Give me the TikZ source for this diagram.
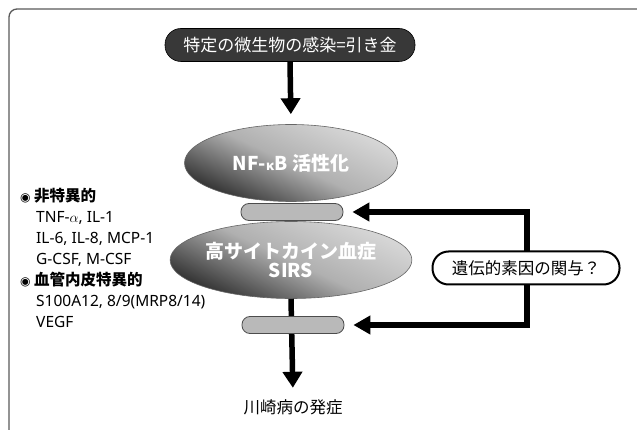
\documentclass[tikz,border=0pt]{standalone}
\usepackage{fontspec}
\setmainfont{Noto Sans CJK JP}
\newfontfamily\lat{Noto Sans}
\newfontfamily\sym{DejaVu Sans}
\usetikzlibrary{arrows.meta,shapes.geometric}
\tikzset{
  arr/.style={line width=5.5pt, -{Triangle[length=16pt,width=19pt]}},
  harr/.style={line width=6pt},
  oval/.style={ellipse, draw=black!60, line width=0.6pt, minimum width=213pt, minimum height=77pt,
     inner sep=0pt, top color=gray!30, bottom color=black!82, middle color=gray!62, shading angle=-25,
     text=white, align=center, font=\fontsize{19}{21}\selectfont\bfseries},
  bar/.style={rounded corners=8pt, draw=black!70, line width=0.8pt, fill=gray!55,
     minimum width=102pt, minimum height=17pt, inner sep=0pt},
  startpill/.style={rounded corners=16pt, fill=black!78, draw=black, line width=0.6pt, text=white,
     minimum width=250pt, minimum height=33pt, inner sep=0pt, font=\fontsize{17}{20}\selectfont},
  qbox/.style={rounded corners=16pt, fill=white, draw=black, line width=2pt,
     minimum width=187pt, minimum height=33pt, inner sep=0pt, font=\fontsize{16.5}{20}\selectfont},
  frame/.style={draw=black!65, line width=1.3pt, rounded corners=8pt},
}
\begin{document}
\begin{tikzpicture}[x=1pt,y=-1pt]
\useasboundingbox (0,0) rectangle (637,430);
\draw[frame] (637,9) -- (9,9) -- (9,430);

\node[startpill] (top) at (290,45) {特定の微生物の感染=引き金};
\node[oval] (e1) at (291,163) {NF-{\fontsize{13}{14}\selectfont κ}B 活性化};
\node[oval] (e2) at (291,260) {高サイトカイン血症\\[-2pt]SIRS};
\node[font=\fontsize{16.5}{20}\selectfont] (fin) at (293,407) {川崎病の発症};

\node[anchor=north west, align=left, inner sep=0pt,
      font=\fontsize{15.5}{21}\selectfont] (list) at (20,188)
{{\sym\fontsize{12}{14}\selectfont ◉} \textbf{非特異的}\\
\hspace*{16pt}{\lat TNF-$\alpha$, IL-1}\\
\hspace*{16pt}{\lat IL-6, IL-8, MCP-1}\\
\hspace*{16pt}{\lat G-CSF, M-CSF}\\
{\sym\fontsize{12}{14}\selectfont ◉} \textbf{血管内皮特異的}\\
\hspace*{16pt}{\lat S100A12, 8/9(MRP8/14)}\\
\hspace*{16pt}{\lat VEGF}};

\draw[arr, shorten >=10pt] (top.south) -- (e1.north);
\draw[arr, shorten >=8pt] (e2.south) -- (fin.north);

\node[bar] (b1) at (292,212) {};
\node[bar] (b2) at (293,325) {};

\coordinate (vt) at (527,212);
\coordinate (vb) at (527,325);
\draw[harr, {Triangle[length=17pt,width=18pt]}-{Triangle[length=17pt,width=18pt]},
      shorten <=9pt, shorten >=9pt, line join=miter] (b1.east) -- (vt) -- (vb) -- (b2.east);

\node[qbox] (q) at (526,268) {遺伝的素因の関与？};
\end{tikzpicture}
\end{document}
